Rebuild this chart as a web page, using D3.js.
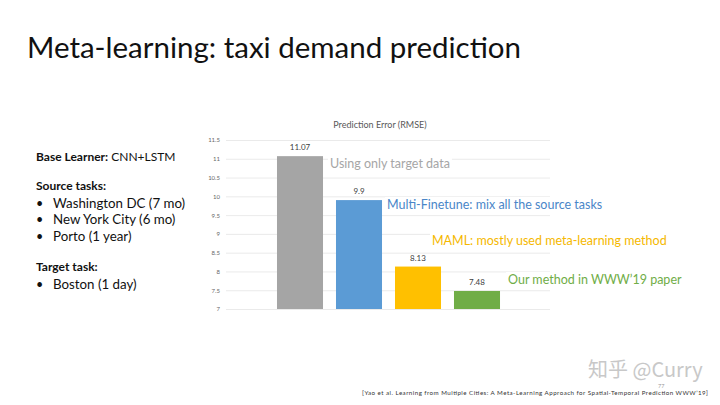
<!DOCTYPE html>
<html>
<head>
<meta charset="utf-8">
<script src="https://cdn.jsdelivr.net/npm/d3@7"></script>
<style>
  body { margin: 0; background: #fff; }
  svg { display: block; font-family: Lato, "Open Sans", sans-serif; }
</style>
</head>
<body>
<svg id="slide" width="720" height="405"></svg>
<script>
// chart data
var methods = ["Target only", "Multi-Finetune", "MAML", "Ours"];
var rmse = [11.07, 9.9, 8.13, 7.48];
var barColors = ["#a5a5a5", "#5b9bd5", "#ffc000", "#70ad47"];
var notes = ["Using only target data", "Multi-Finetune: mix all the source tasks",
  "MAML: mostly used meta-learning method", "Our method in WWW\u201919 paper"];
var noteColors = ["#a6a6a6", "#4a86c8", "#f5b800", "#70ad47"];
var yTicks = [7, 7.5, 8, 8.5, 9, 9.5, 10, 10.5, 11, 11.5];

// where each note sits relative to its bar's right edge
var noteDx = [7, 5, -9, 8];
var noteY = [168, 209, 245, 284];

var svg = d3.select("#slide");

// slide title
svg.append("text")
  .attr("x", 27).attr("y", 58)
  .attr("font-size", 29.5)
  .attr("fill", "#111")
  .attr("textLength", 494)
  .text("Meta-learning: taxi demand prediction");

// left side text
var leftLines = [
  { y: 161, bold: "Base Learner:", rest: " CNN+LSTM" },
  { y: 190, bold: "Source tasks:", rest: "" },
  { y: 208, bullet: "Washington DC (7 mo)" },
  { y: 224, bullet: "New York City (6 mo)" },
  { y: 241, bullet: "Porto (1 year)" },
  { y: 271, bold: "Target task:", rest: "" },
  { y: 289, bullet: "Boston (1 day)" }
];
leftLines.forEach(function (l) {
  if (l.bullet) {
    svg.append("text").attr("x", 36).attr("y", l.y).attr("font-size", 12.5)
      .attr("fill", "#111").text("\u2022");
    svg.append("text").attr("x", 53).attr("y", l.y).attr("font-size", 13.3)
      .attr("fill", "#111").text(l.bullet);
  } else {
    var t = svg.append("text").attr("x", 36).attr("y", l.y)
      .attr("font-size", 12).attr("fill", "#111");
    t.append("tspan").attr("font-weight", "bold").text(l.bold);
    t.append("tspan").text(l.rest);
  }
});

// chart
var y = d3.scaleLinear().domain([7, 11.5]).range([309, 140]);
var x = d3.scaleBand().domain(methods).range([270.5, 506.5])
  .paddingInner(0.22).paddingOuter(0.11);

svg.append("text")
  .attr("x", 380).attr("y", 128)
  .attr("text-anchor", "middle")
  .attr("font-size", 9)
  .attr("fill", "#595959")
  .text("Prediction Error (RMSE)");

var yAxis = svg.append("g")
  .attr("transform", "translate(226,0)")
  .call(d3.axisLeft(y).tickValues(yTicks).tickSize(-324).tickFormat(d3.format("")));
yAxis.select(".domain").remove();
yAxis.selectAll(".tick line").attr("stroke", "#e4e4e4").attr("stroke-width", 0.8);
yAxis.selectAll(".tick text")
  .attr("x", -6)
  .attr("font-size", 6)
  .attr("fill", "#666")
  .attr("font-family", "Lato, sans-serif");

svg.selectAll("rect.bar")
  .data(methods)
  .enter()
  .append("rect")
  .attr("class", "bar")
  .attr("x", function (d) { return x(d); })
  .attr("width", x.bandwidth())
  .attr("y", function (d, i) { return y(rmse[i]); })
  .attr("height", function (d, i) { return y(7) - y(rmse[i]); })
  .attr("fill", function (d, i) { return barColors[i]; });

svg.selectAll("text.val")
  .data(methods)
  .enter()
  .append("text")
  .attr("class", "val")
  .attr("x", function (d) { return x(d) + x.bandwidth() / 2; })
  .attr("y", function (d, i) { return y(rmse[i]) - 6; })
  .attr("text-anchor", "middle")
  .attr("font-size", 8)
  .attr("fill", "#404040")
  .text(function (d, i) { return rmse[i]; });

// annotations next to each bar, with white box over gridlines
notes.forEach(function (n, i) {
  var nx = x(methods[i]) + x.bandwidth() + noteDx[i];
  var g = svg.append("g");
  var bg = g.append("rect").attr("fill", "#fff");
  var t = g.append("text")
    .attr("x", nx).attr("y", noteY[i])
    .attr("font-size", 12.5)
    .attr("fill", noteColors[i])
    .text(n);
  var b = t.node().getBBox();
  bg.attr("x", b.x - 2).attr("y", b.y).attr("width", b.width + 4).attr("height", b.height);
});

// watermark
svg.append("text")
  .attr("x", 588).attr("y", 377)
  .attr("font-size", 20)
  .attr("fill", "#c8c8c8")
  .attr("font-family", "'Noto Sans CJK SC', sans-serif")
  .text("\u77e5\u4e4e @Curry");
svg.append("text")
  .attr("x", 658).attr("y", 388)
  .attr("font-size", 5.5)
  .attr("fill", "#999")
  .text("77");

// footer reference
svg.append("text")
  .attr("x", 362).attr("y", 395)
  .attr("font-size", 6.2)
  .attr("fill", "#333")
  .attr("textLength", 346)
  .text("[Yao et al. Learning from  Multiple Cities: A Meta-Learning Approach for Spatial-Temporal Prediction WWW\u201919]");
</script>
</body>
</html>
